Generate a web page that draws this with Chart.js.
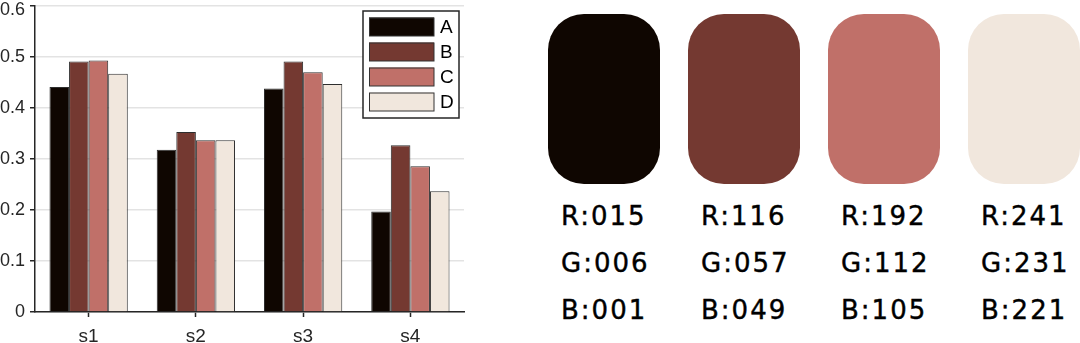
<!DOCTYPE html>
<html>
<head>
<meta charset="utf-8">
<script src="https://cdn.jsdelivr.net/npm/chart.js@4.4.1/dist/chart.umd.min.js"></script>
<style>
  html, body { margin: 0; padding: 0; background: #fff; }
  #wrap { position: relative; width: 1080px; height: 343px; overflow: hidden; }
  #chartBox { position: absolute; left: 0; top: 0; width: 476px; height: 343px; }
  .swatch { position: absolute; top: 14px; width: 112px; height: 170px; border-radius: 36px; }
  .code { position: absolute; top: 193px; font-family: "DejaVu Sans", sans-serif; font-size: 26px;
          line-height: 47px; letter-spacing: 2px; color: #000; white-space: pre;
          -webkit-text-stroke: 0.4px #000; }
</style>
</head>
<body>
<div id="wrap">
  <div id="chartBox"><canvas id="barChart"></canvas></div>
</div>
<script>
// data
const categories = ['s1', 's2', 's3', 's4'];
const seriesNames = ['A', 'B', 'C', 'D'];
const valuesA = [0.441, 0.318, 0.438, 0.197];
const valuesB = [0.491, 0.353, 0.491, 0.327];
const valuesC = [0.493, 0.337, 0.470, 0.286];
const valuesD = [0.467, 0.337, 0.447, 0.237];
const yTicks = [0, 0.1, 0.2, 0.3, 0.4, 0.5, 0.6];

// palette
const paletteR = [15, 116, 192, 241];
const paletteG = [6, 57, 112, 231];
const paletteB = [1, 49, 105, 221];

const colors = paletteR.map((r, i) => 'rgb(' + r + ',' + paletteG[i] + ',' + paletteB[i] + ')');
const allValues = [valuesA, valuesB, valuesC, valuesD];
const axisColor = '#262626';
const fontFamily = "'Liberation Sans', Arial, sans-serif";

// label sumbu digambar sendiri dari skala chart
const axisLabels = {
    id: 'axisLabels',
    afterDraw(chart) {
        const ctx = chart.ctx;
        const xs = chart.scales.x, ys = chart.scales.y;
        ctx.save();
        ctx.fillStyle = '#262626';
        ctx.font = '18px ' + fontFamily;
        ctx.textAlign = 'right';
        ctx.textBaseline = 'middle';
        yTicks.forEach(v => {
            const y = Math.max(ys.getPixelForValue(v), 10);
            ctx.fillText(String(v), ys.right - 10, y);
        });
        ctx.font = '19px ' + fontFamily;
        ctx.textAlign = 'center';
        ctx.textBaseline = 'alphabetic';
        categories.forEach((c, i) => {
            ctx.fillText(c, xs.getPixelForValue(i), xs.top + 30);
        });
        ctx.restore();
    }
};

// legend di dalam area chart
const boxLegend = {
    id: 'boxLegend',
    afterDraw(chart) {
        const ctx = chart.ctx;
        const x0 = 363, y0 = 11, w = 96, h = 107;
        ctx.save();
        ctx.fillStyle = '#fff';
        ctx.fillRect(x0, y0, w, h);
        ctx.strokeStyle = axisColor;
        ctx.lineWidth = 1.5;
        ctx.strokeRect(x0, y0, w, h);
        ctx.font = '19px ' + fontFamily;
        ctx.textBaseline = 'middle';
        chart.data.datasets.forEach((ds, i) => {
            const y = 17.5 + i * 25;
            ctx.fillStyle = ds.backgroundColor;
            ctx.fillRect(369, y, 65, 18.5);
            ctx.lineWidth = 1;
            ctx.strokeStyle = '#333';
            ctx.strokeRect(369.5, y + 0.5, 64.5, 18);
            ctx.fillStyle = '#000';
            ctx.fillText(ds.label, 440, y + 10);
        });
        ctx.restore();
    }
};

function createBarChart() {
    const ctx = document.getElementById('barChart').getContext('2d');
    return new Chart(ctx, {
        type: 'bar',
        data: {
            labels: categories,
            datasets: seriesNames.map((name, i) => ({
                label: name,
                data: allValues[i],
                backgroundColor: colors[i],
                borderColor: '#2e2e2e',
                borderWidth: 1,
                borderSkipped: 'bottom',
                categoryPercentage: 0.73,
                barPercentage: 1.0
            }))
        },
        options: {
            responsive: true,
            maintainAspectRatio: false,
            animation: false,
            layout: { padding: { top: 6, right: 12, left: 0, bottom: 0 } },
            plugins: {
                legend: { display: false },
                tooltip: { enabled: false }
            },
            scales: {
                x: {
                    offset: true,
                    afterFit: s => { s.height = 31; s.paddingLeft = 0; s.paddingRight = 0; },
                    grid: {
                        offset: false,
                        drawOnChartArea: false,
                        tickLength: 5,
                        tickColor: axisColor,
                        tickWidth: 1.5
                    },
                    border: { color: axisColor, width: 1.5 },
                    ticks: { display: false }
                },
                y: {
                    min: 0,
                    max: 0.6,
                    afterFit: s => { s.width = 35; s.paddingTop = 0; s.paddingBottom = 0; },
                    afterBuildTicks: s => { s.ticks = yTicks.map(v => ({ value: v })); },
                    grid: {
                        color: '#e3e3e3',
                        lineWidth: 1.5,
                        tickLength: 5,
                        tickColor: axisColor,
                        tickWidth: 1.5
                    },
                    border: { color: axisColor, width: 1.5 },
                    ticks: { display: false }
                }
            }
        },
        plugins: [axisLabels, boxLegend]
    });
}

// palet warna di sebelah kanan
function createPalette() {
    const wrap = document.getElementById('wrap');
    const pad = n => String(n).padStart(3, '0');
    colors.forEach((c, i) => {
        const left = 548 + i * 140;
        const sw = document.createElement('div');
        sw.className = 'swatch';
        sw.style.left = left + 'px';
        sw.style.background = c;
        wrap.appendChild(sw);

        const txt = document.createElement('div');
        txt.className = 'code';
        txt.style.left = (left + 13) + 'px';
        txt.textContent = 'R:' + pad(paletteR[i]) + '\nG:' + pad(paletteG[i]) + '\nB:' + pad(paletteB[i]);
        wrap.appendChild(txt);
    });
}

document.addEventListener('DOMContentLoaded', function() {
    createBarChart();
    createPalette();
});
</script>
</body>
</html>
